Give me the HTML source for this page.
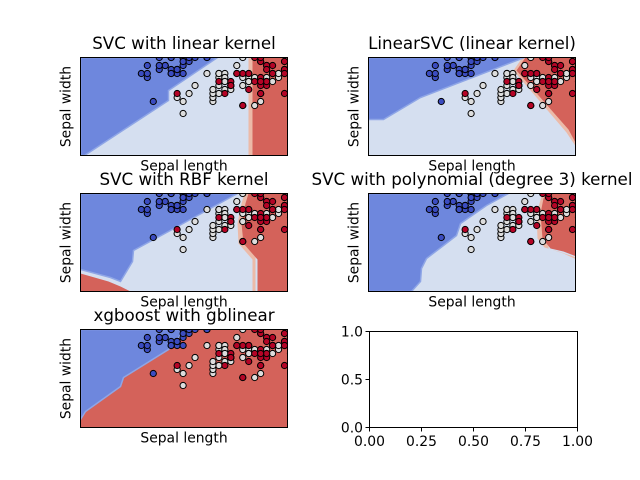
<!DOCTYPE html>
<html><head><meta charset="utf-8"><style>
html,body{margin:0;padding:0;background:#fff;}
svg{display:block;font-family:"DejaVu Sans","Liberation Sans",sans-serif;}
</style></head><body>
<svg id="fig" width="640" height="480" viewBox="0 0 640 480" xmlns="http://www.w3.org/2000/svg">
<rect width="640" height="480" fill="#fff"/>
</svg>
<script>
// Iris sepal length / width with class labels
const sepalLength = [5.1,4.9,4.7,4.6,5.0,5.4,4.6,5.0,4.4,4.9,5.4,4.8,4.8,4.3,5.8,5.7,5.4,5.1,5.7,5.1,5.4,5.1,4.6,5.1,4.8,5.0,5.0,5.2,5.2,4.7,4.8,5.4,5.2,5.5,4.9,5.0,5.5,4.9,4.4,5.1,5.0,4.5,4.4,5.0,5.1,4.8,5.1,4.6,5.3,5.0,
7.0,6.4,6.9,5.5,6.5,5.7,6.3,4.9,6.6,5.2,5.0,5.9,6.0,6.1,5.6,6.7,5.6,5.8,6.2,5.6,5.9,6.1,6.3,6.1,6.4,6.6,6.8,6.7,6.0,5.7,5.5,5.5,5.8,6.0,5.4,6.0,6.7,6.3,5.6,5.5,5.5,6.1,5.8,5.0,5.6,5.7,5.7,6.2,5.1,5.7,
6.3,5.8,7.1,6.3,6.5,7.6,4.9,7.3,6.7,7.2,6.5,6.4,6.8,5.7,5.8,6.4,6.5,7.7,7.7,6.0,6.9,5.6,7.7,6.3,6.7,7.2,6.2,6.1,6.4,7.2,7.4,7.9,6.4,6.3,6.1,7.7,6.3,6.4,6.0,6.9,6.7,6.9,5.8,6.8,6.7,6.7,6.3,6.5,6.2,5.9];
const sepalWidth = [3.5,3.0,3.2,3.1,3.6,3.9,3.4,3.4,2.9,3.1,3.7,3.4,3.0,3.0,4.0,4.4,3.9,3.5,3.8,3.8,3.4,3.7,3.6,3.3,3.4,3.0,3.4,3.5,3.4,3.2,3.1,3.4,4.1,4.2,3.1,3.2,3.5,3.1,3.0,3.4,3.5,2.3,3.2,3.5,3.8,3.0,3.8,3.2,3.7,3.3,
3.2,3.2,3.1,2.3,2.8,2.8,3.3,2.4,2.9,2.7,2.0,3.0,2.2,2.9,2.9,3.1,3.0,2.7,2.2,2.5,3.2,2.8,2.5,2.8,2.9,3.0,2.8,3.0,2.9,2.6,2.4,2.4,2.7,2.7,3.0,3.4,3.1,2.3,3.0,2.5,2.6,3.0,2.6,2.3,2.7,3.0,2.9,2.9,2.5,2.8,
3.3,2.7,3.0,2.9,3.0,3.0,2.5,2.9,2.5,3.6,3.2,2.7,3.0,2.5,2.8,3.2,3.0,3.8,2.6,2.2,3.2,2.8,2.8,2.7,3.3,3.2,2.8,3.0,2.8,3.0,2.8,3.8,2.8,2.8,2.6,3.0,3.4,3.1,3.0,3.1,3.1,3.1,2.7,3.2,3.3,3.0,2.5,3.0,3.4,3.0];
const species = [];
for (let i=0;i<150;i++) species.push(i<50?0:(i<100?1:2));
const xDomain = [3.28, 6.75];
const yDomain = [0.95, 3.40];
const titles = ["SVC with linear kernel","LinearSVC (linear kernel)","SVC with RBF kernel","SVC with polynomial (degree 3) kernel","xgboost with gblinear"];
const emptyTicks = ["0.00","0.25","0.50","0.75","1.00"];
const emptyYTicks = ["0.0","0.5","1.0"];

const NS="http://www.w3.org/2000/svg";
const svg=document.getElementById('fig');
function mk(tag,attrs,parent){const e=document.createElementNS(NS,tag);for(const k in attrs)e.setAttribute(k,attrs[k]);(parent||svg).appendChild(e);return e;}

const W=207,H=98;
const panels=[{x:80.5,y:57.5},{x:368.5,y:57.5},{x:80.5,y:193.5},{x:368.5,y:193.5},{x:80.5,y:329.5}];
const BLUE="#6e87dd",LIGHT="#d5dff0",RED="#d4625a";
// decision region shapes, in panel pixel coords (background fill, not data marks)
const regions=[
 {blue:[[0,0],[137,0],[88,33],[88,43],[4,98],[0,98]], red:[[172,0],[208,0],[208,98],[172,98]], redSoft:[[168,0],[178,0],[178,98],[168,98]]},
 {blue:[[0,0],[156,0],[52,40],[15,62],[0,62]], red:[[157,0],[208,0],[208,87],[200,72],[148,13]], redSoft:[[154,0],[208,0],[208,90],[198,75],[145,13]]},
 {blue:[[0,0],[157,0],[88,38],[53,57],[52,68],[40,88],[30,84],[0,76]], red:[[168,0],[208,0],[208,98],[177,98],[177,66],[163,50],[161,30],[165,10]], red2:[[0,80],[28,88],[40,93],[50,98],[0,98]], redSoft:[[164,0],[175,0],[175,98],[172,98],[172,66],[158,50],[157,30],[161,10]]},
 {blue:[[0,0],[140,0],[118,12],[92,30],[88,42],[75,52],[58,65],[53,75],[52,88],[43,98],[0,98]], red:[[178,0],[208,0],[208,63],[195,58],[182,55],[174,45],[172,20],[175,5]], redSoft:[[174,0],[180,0],[180,55],[195,60],[208,66],[208,64],[190,58],[176,54],[169,45],[168,20]]},
 {blue:[[0,0],[105,0],[88,20],[43,48],[40,57],[5,82],[0,90]], bg:RED}
];
function pts(a,ox,oy){return a.map(p=>(ox+p[0])+','+(oy+p[1])).join(' ');}

panels.forEach((P,pi)=>{
  const g=mk('g',{});
  
  
  const cid='clip'+pi;
  const cp=mk('clipPath',{id:cid},g);mk('rect',{x:P.x,y:P.y,width:W,height:H},cp);
  const R=regions[pi];
  const bgr=mk('rect',{x:P.x,y:P.y,width:W,height:H,fill:R.bg||LIGHT},g);
  
  
  const rg=mk('g',{'clip-path':'url(#'+cid+')'},g);
  if(R.redSoft){const e=mk('polygon',{points:pts(R.redSoft,P.x,P.y),fill:"#ecbaa8"},rg);}
  if(R.red){const e=mk('polygon',{points:pts(R.red,P.x,P.y),fill:RED},rg);}
  if(R.red2){const e=mk('polygon',{points:pts(R.red2,P.x,P.y),fill:RED},rg);}
  {const e=mk('polygon',{points:pts(R.blue,P.x,P.y),fill:BLUE,stroke:"#8fa6e6","stroke-width":1.5},rg);}
  const sx=v=>P.x+(v-xDomain[0])/(xDomain[1]-xDomain[0])*W;
  const sy=v=>P.y+H-(v-yDomain[0])/(yDomain[1]-yDomain[0])*H;
  const cols=["#3b4cc0","#dddddd","#b40426"];
  for(let i=0;i<sepalLength.length;i++){
    const c=mk('circle',{cx:sx(sepalLength[i]),cy:sy(sepalWidth[i]),r:3.1,fill:cols[species[i]],stroke:"#000","stroke-width":1},rg);
    
    
  }
  const fr=mk('rect',{x:P.x,y:P.y,width:W,height:H,fill:"none",stroke:"#000","stroke-width":1},g);
  
  
  const t=mk('text',{x:P.x+W/2,y:P.y-8.5,'text-anchor':'middle','font-size':'16.7px',fill:'#000'},g);
  t.textContent=titles[pi];
  
  
  const xl=mk('text',{x:P.x+W/2,y:P.y+H+15,'text-anchor':'middle','font-size':'13.9px',fill:'#000'},g);
  xl.textContent="Sepal length";
  
  
  const yx=P.x-10,yy=P.y+H/2;
  const yl=mk('text',{x:yx,y:yy,'text-anchor':'middle','font-size':'13.9px',fill:'#000',transform:'rotate(-90 '+yx+' '+yy+')'},g);
  yl.textContent="Sepal width";
  
  
});

// empty sixth axes
(function(){
  const x0=369,y0=331,w=208,h=96;
  const g=mk('g',{});
  
  
  const fr=mk('rect',{x:x0+0.5,y:y0+0.5,width:w,height:h,fill:'none',stroke:'#000','stroke-width':1},g);
  
  
  emptyTicks.forEach((lab,i)=>{
    const x=x0+0.5+i*w/(emptyTicks.length-1);
    mk('line',{x1:x,y1:y0+h+0.5,x2:x,y2:y0+h+4.5,stroke:'#000'},g);
    const t=mk('text',{x:x,y:y0+h+19,'text-anchor':'middle','font-size':'13.9px'},g);
    t.textContent=lab;
    
    
  });
  emptyYTicks.forEach((lab,i)=>{
    const y=y0+h+0.5-i*h/(emptyYTicks.length-1);
    mk('line',{x1:x0+0.5,y1:y,x2:x0-3.5,y2:y,stroke:'#000'},g);
    const t=mk('text',{x:x0-6,y:y+5,'text-anchor':'end','font-size':'13.9px'},g);
    t.textContent=lab;
    
    
  });
})();
</script>
</body></html>
